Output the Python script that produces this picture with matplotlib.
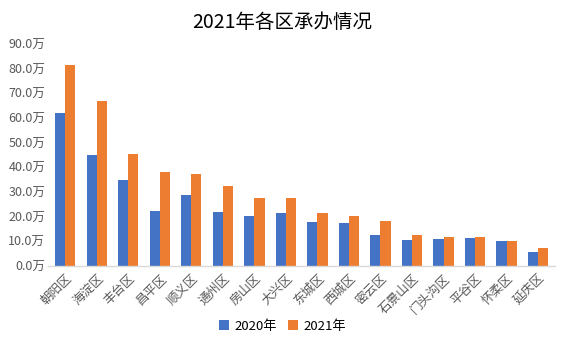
import numpy as np
import matplotlib
matplotlib.use("Agg")
import matplotlib.pyplot as plt
from matplotlib.ticker import FuncFormatter

plt.rcParams['font.family'] = ['Noto Sans CJK SC', 'DejaVu Sans']

# --- Dane ---
districts = ['朝阳区', '海淀区', '丰台区', '昌平区', '顺义区', '通州区', '房山区', '大兴区',
             '东城区', '西城区', '密云区', '石景山区', '门头沟区', '平谷区', '怀柔区', '延庆区']
v2020 = [61.9, 44.8, 35.0, 22.4, 28.9, 22.0, 20.4, 21.6, 17.9, 17.6, 12.6, 10.6, 11.0, 11.4, 10.2, 5.7]
v2021 = [81.6, 66.9, 45.6, 38.3, 37.1, 32.6, 27.7, 27.7, 21.6, 20.4, 18.3, 12.6, 11.8, 11.8, 10.2, 7.3]

blue = '#4472C4'
orange = '#ED7D31'
grey = '#595959'

fig = plt.figure(figsize=(5.65, 3.41), dpi=100)
ax = fig.add_axes([0.085, 0.22, 0.898, 0.651])

x = np.arange(len(districts))
w = 0.32
ax.bar(x - w / 2, v2020, width=w, color=blue, label='2020年')
ax.bar(x + w / 2, v2021, width=w, color=orange, label='2021年')

ax.set_ylim(0, 90)
ax.set_xlim(-0.55, len(districts) - 0.45)
ax.set_yticks(np.arange(0, 91, 10))
ax.yaxis.set_major_formatter(FuncFormatter(lambda v, p: f'{v:.1f}万'))
ax.tick_params(axis='y', length=0, labelsize=9, labelcolor=grey, pad=2)
ax.set_xticks(x)
ax.set_xticklabels(districts, rotation=45, ha='right', rotation_mode='anchor',
                   fontsize=9, color=grey)
ax.tick_params(axis='x', length=0, pad=4)

for s in ['top', 'right', 'left']:
    ax.spines[s].set_visible(False)
ax.spines['bottom'].set_color('#D9D9D9')
ax.spines['bottom'].set_linewidth(1)

fig.suptitle('2021年各区承办情况', y=0.965, fontsize=14)
fig.legend(loc='lower center', bbox_to_anchor=(0.5, -0.01), ncol=2, frameon=False,
           fontsize=9.5, handlelength=0.8, handleheight=0.8, columnspacing=0.8,
           handletextpad=0.4)

fig.savefig('out.png', dpi=100)
